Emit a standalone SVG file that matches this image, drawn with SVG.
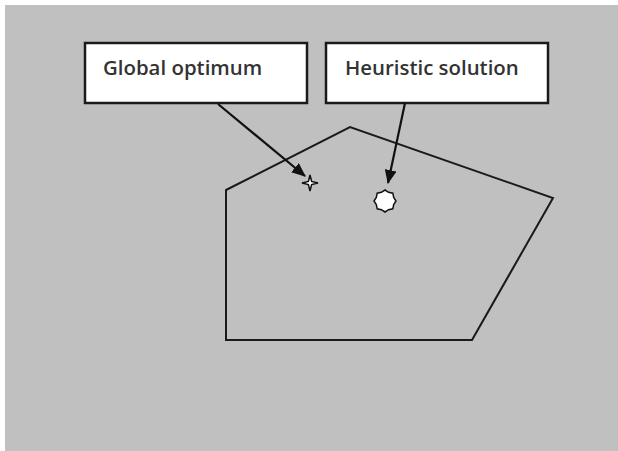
<svg xmlns="http://www.w3.org/2000/svg" width="618" height="451" viewBox="0 0 618 451">
<style>
.box{fill:#fff;stroke:#1a1a1a;stroke-width:2.5}
.lbl{font-family:"Open Sans","Liberation Sans",sans-serif;font-size:20.4px;font-weight:600;fill:#333}
.edge{stroke:#111;stroke-width:2.2;fill:none}
</style>
<defs>
<marker id="ah" markerWidth="14" markerHeight="12" refX="13" refY="6" orient="auto" markerUnits="userSpaceOnUse">
<path d="M0,0 L14,6 L0,12 Z" fill="#111"/>
</marker>
</defs>
<rect x="0" y="0" width="618" height="451" fill="#fff"/>
<rect x="5" y="5" width="613" height="446" fill="#c0c0c0"/>
<g id="region">
<polygon points="226,190 350,127 553,198 472,340 226,340" fill="none" stroke="#1a1a1a" stroke-width="2"/>
</g>
<g id="global-optimum">
<rect class="box" x="85" y="43" width="222" height="60"/>
<text class="lbl" x="103" y="75">Global optimum</text>
</g>
<g id="heuristic-solution">
<rect class="box" x="326" y="43" width="222" height="60"/>
<text class="lbl" x="345" y="75">Heuristic solution</text>
</g>
<g id="optimum-point">
<polygon points="310,175 311.6,181.4 318,183 311.6,184.6 310,191 308.4,184.6 302,183 308.4,181.4" fill="#fff" stroke="#111" stroke-width="1.5"/>
</g>
<g id="solution-point">
<polygon points="385,190 388.6,192.3 392.8,193.2 393.7,197.4 396,201 393.7,204.6 392.8,208.8 388.6,209.7 385,212 381.4,209.7 377.2,208.8 376.3,204.6 374,201 376.3,197.4 377.2,193.2 381.4,192.3" fill="#fff" stroke="#111" stroke-width="1.5"/>
</g>
<g id="connectors">
<line class="edge" x1="218" y1="104" x2="305" y2="176" marker-end="url(#ah)"/>
<line class="edge" x1="405" y1="103" x2="388" y2="183" marker-end="url(#ah)"/>
</g>
</svg>
